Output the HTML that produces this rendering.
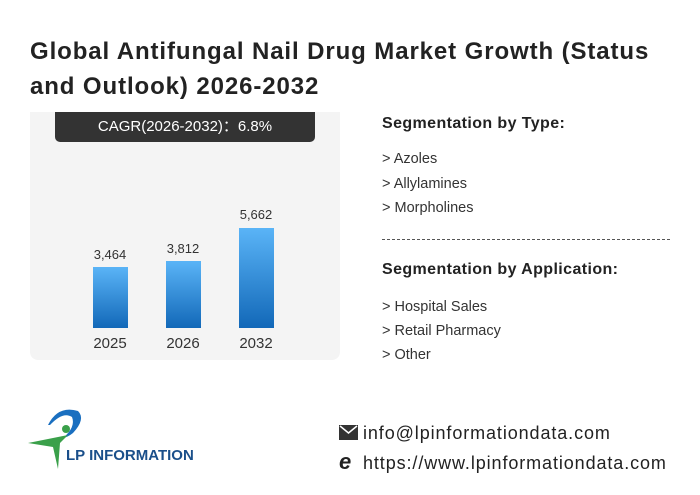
<!DOCTYPE html>
<html><head><meta charset="utf-8"><style>
body{margin:0;width:700px;height:495px;background:#fff;font-family:"Liberation Sans",sans-serif;position:relative;overflow:hidden;color:#222}
.a{position:absolute;white-space:nowrap}
.t{left:30px;top:34px;font-size:24px;letter-spacing:0.9px;font-weight:bold;line-height:35px;color:#222}
.panel{left:30px;top:112px;width:310px;height:248px;background:#f4f4f4;border-radius:0 0 8px 8px}
.cagr{left:55px;top:112px;width:260px;height:30px;background:#333;color:#fff;font-size:15px;line-height:30px;text-align:center;border-radius:0 0 5px 5px}
.bar{position:absolute;width:35px;background:linear-gradient(#5ab4f7,#1268b8)}
.v{font-size:13px;color:#333;width:60px;text-align:center}
.y{font-size:15px;color:#333;width:60px;text-align:center}
.h{font-size:16px;letter-spacing:0.4px;font-weight:bold;left:382px}
.i{font-size:14.5px;left:382px;color:#333}
.f{font-size:18px;letter-spacing:0.9px;color:#222}
</style></head><body>
<div class="a t">Global Antifungal Nail Drug Market Growth (Status<br>and Outlook) 2026-2032</div>
<div class="a panel"></div>
<div class="a cagr">CAGR(2026-2032)：6.8%</div>
<div class="bar" style="left:93px;top:267px;height:61px"></div>
<div class="bar" style="left:166px;top:261px;height:67px"></div>
<div class="bar" style="left:239px;top:228px;height:100px"></div>
<div class="a v" style="left:80px;top:247px">3,464</div>
<div class="a v" style="left:153px;top:241px">3,812</div>
<div class="a v" style="left:226px;top:207px">5,662</div>
<div class="a y" style="left:80px;top:335px">2025</div>
<div class="a y" style="left:153px;top:335px">2026</div>
<div class="a y" style="left:226px;top:335px">2032</div>
<div class="a h" style="top:115px">Segmentation by Type:</div>
<div class="a i" style="top:151px">&gt; Azoles</div>
<div class="a i" style="top:176px">&gt; Allylamines</div>
<div class="a i" style="top:200px">&gt; Morpholines</div>
<div class="a" style="left:382px;top:239px;width:288px;border-top:1px dashed #555"></div>
<div class="a h" style="top:261px">Segmentation by Application:</div>
<div class="a i" style="top:299px">&gt; Hospital Sales</div>
<div class="a i" style="top:323px">&gt; Retail Pharmacy</div>
<div class="a i" style="top:347px">&gt; Other</div>
<svg class="a" style="left:28px;top:405px" width="60" height="65" viewBox="0 0 60 65">
<path d="M20 20 Q30 0 50 6 Q58 14 45 28 Q40 32 35 33 Q48 22 44 12 Q35 6 22 20Z" fill="#1a6fc0"/>
<circle cx="38" cy="24" r="4" fill="#3aa04a"/>
<path d="M0 38 L40 30 L32 38 L30 64 L25 42Z" fill="#3aa04a"/>
</svg>
<div class="a" style="left:66px;top:447px;font-size:15px;font-weight:bold;color:#1a4f8a">LP INFORMATION</div>
<svg class="a" style="left:339px;top:425px" width="19" height="15"><rect width="19" height="15" fill="#333"/><path d="M1 1 L9.5 8 L18 1" stroke="#fff" stroke-width="1.5" fill="none"/></svg>
<div class="a f" style="left:363px;top:423px">info@lpinformationdata.com</div>
<div class="a" style="left:339px;top:449px;font-size:22px;font-weight:bold;font-style:italic;color:#222">e</div>
<div class="a f" style="left:363px;top:453px">https://www.lpinformationdata.com</div>
</body></html>
